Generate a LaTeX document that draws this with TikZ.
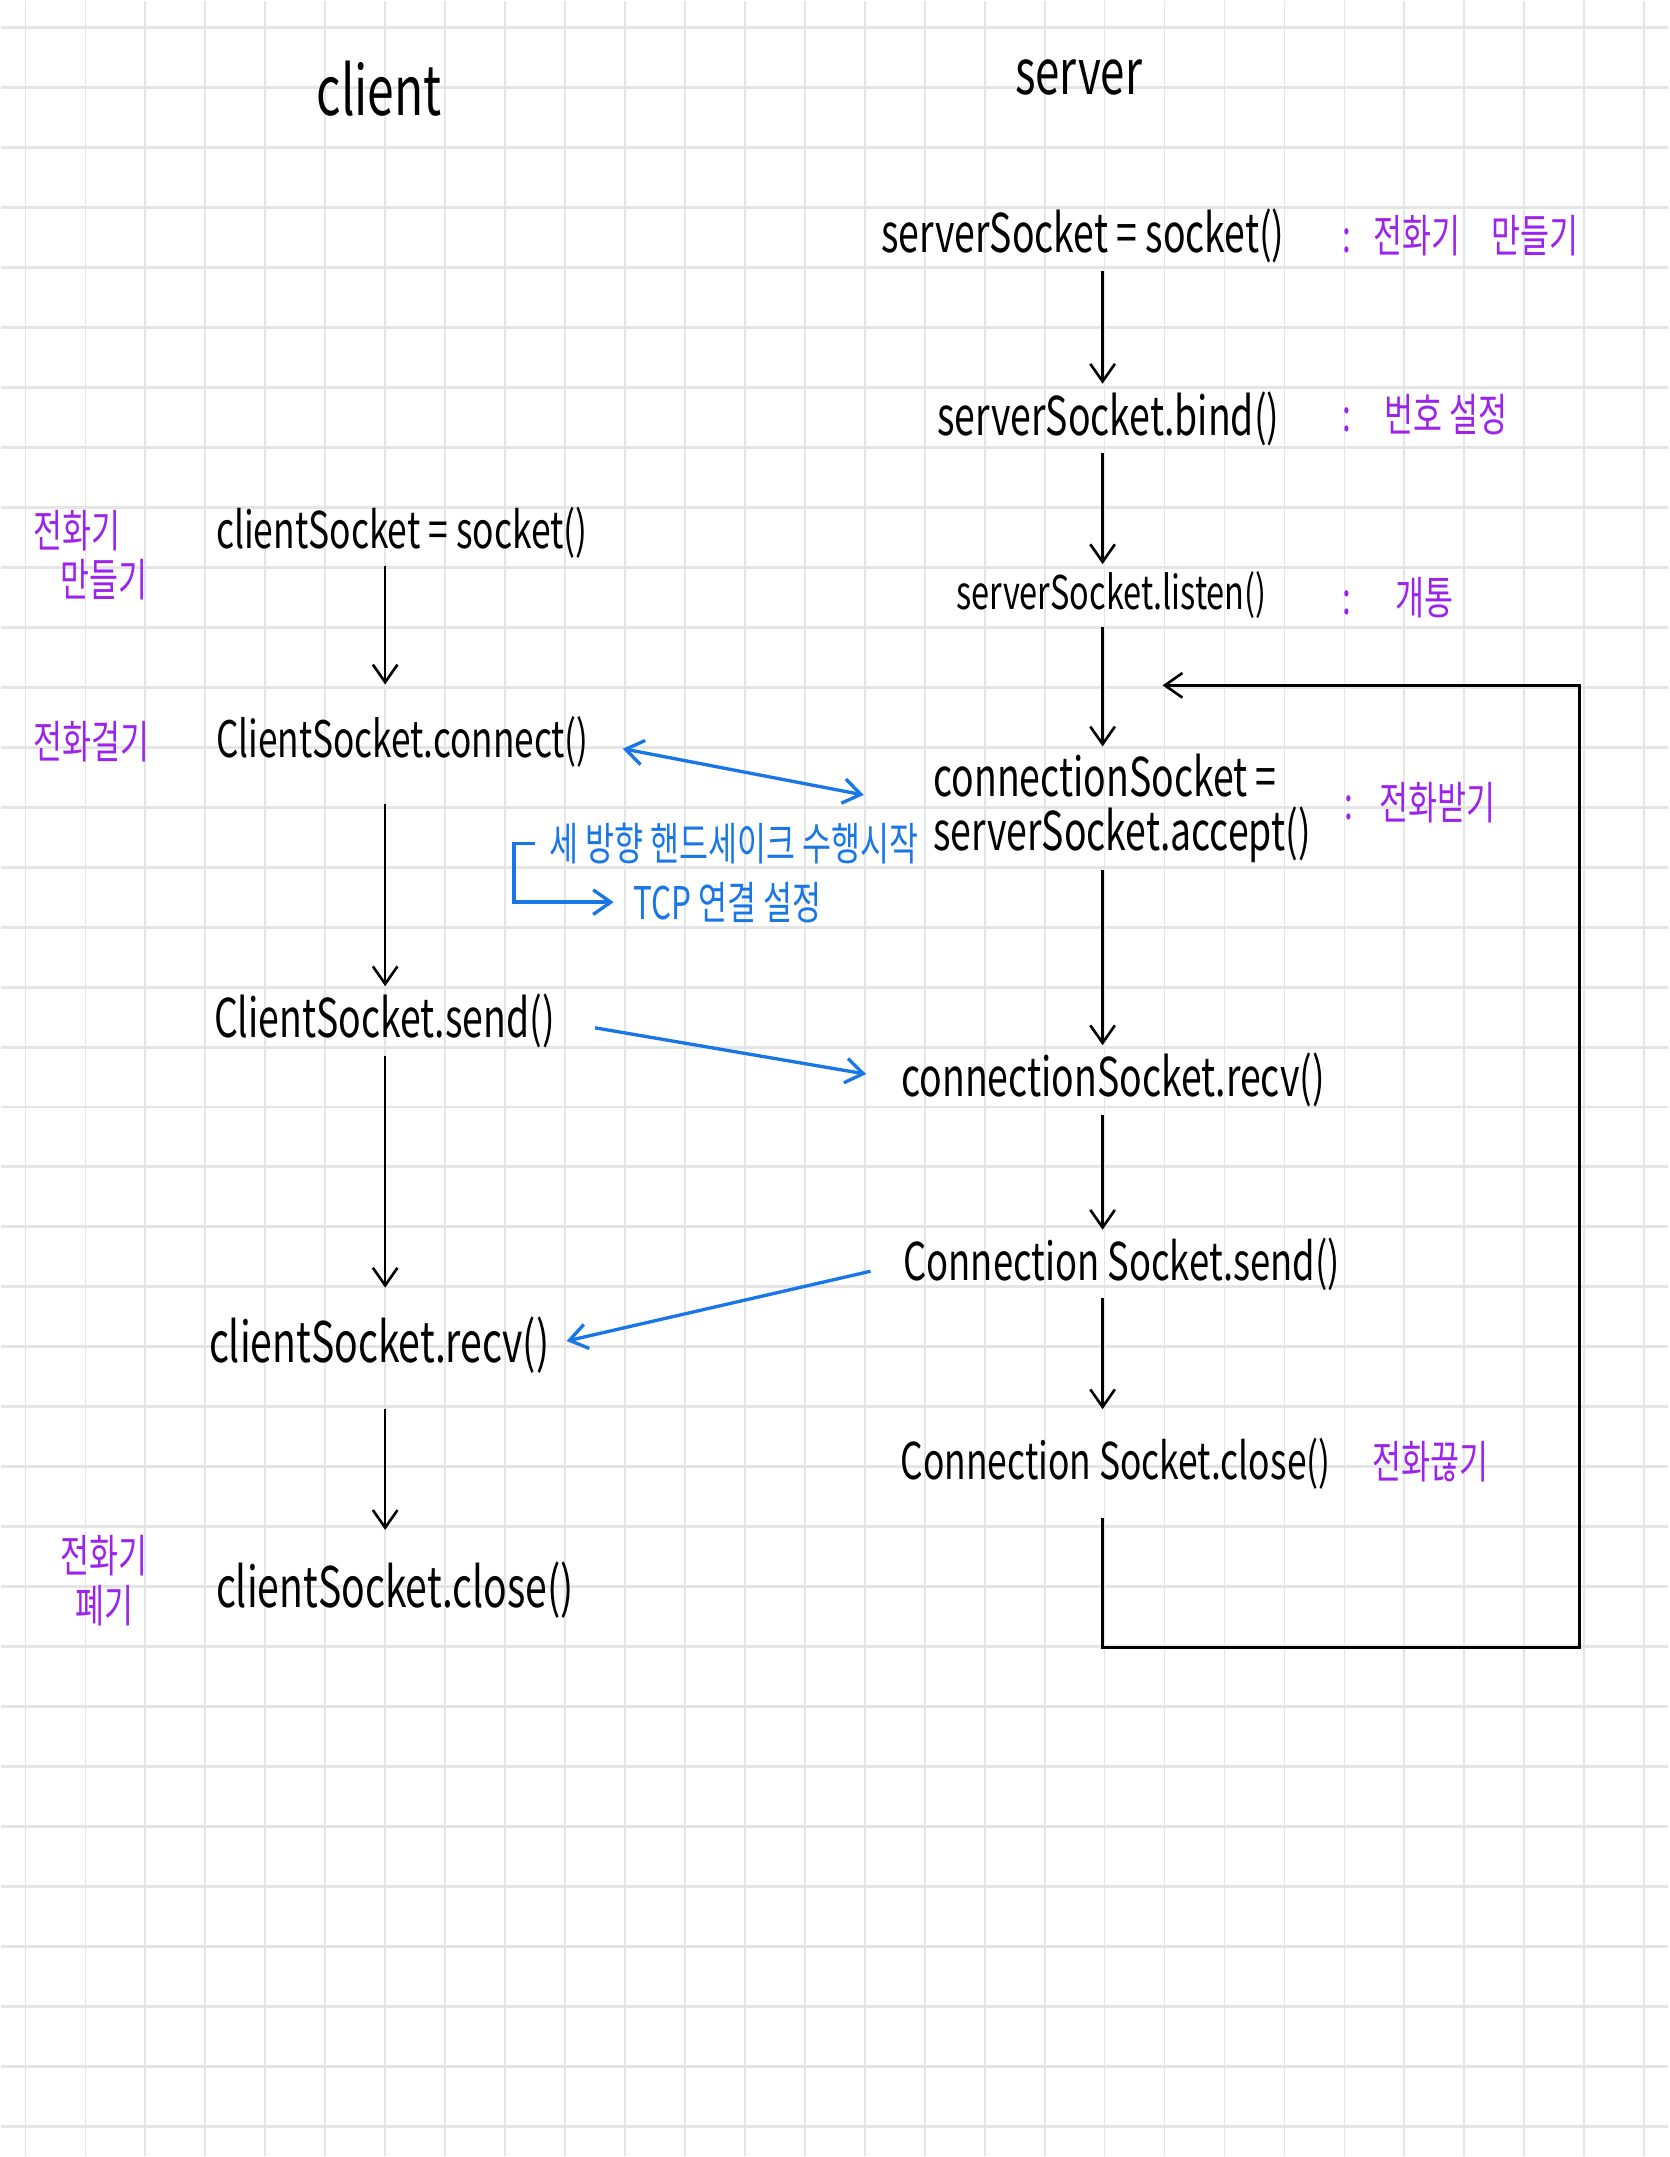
\documentclass[tikz,border=0pt]{standalone}
\usepackage{fontspec}
\setmainfont{Noto Sans CJK KR}
\newfontfamily\hand[FakeStretch=0.7]{Noto Sans CJK KR}
\usetikzlibrary{arrows.meta}
\definecolor{notepurple}{RGB}{155,35,235}
\definecolor{noteblue}{RGB}{25,118,230}
\definecolor{gridgray}{RGB}{229,229,229}

\begin{document}
\begin{tikzpicture}[x=0.01cm, y=-0.01cm,
      every node/.style = {inner sep=2pt, font=\hand},
      code/.style = {anchor=west, inner xsep=0pt, font=\hand\fontsize{#1}{#1}\selectfont},
      code/.default = 15.2,
      head/.style = {font=\hand\fontsize{#1}{20}\selectfont},
      note/.style = {text=notepurple, font=\hand\fontsize{12.8}{14}\selectfont},
      hint/.style = {text=noteblue, anchor=west, font=\hand\fontsize{12.8}{14}\selectfont},
      flow/.style = {-{Straight Barb[length=5pt,width=7pt]}, line width=0.75pt},
      msg/.style = {flow, draw=noteblue, line width=0.95pt}]
    % squared paper
    \fill[white] (0,0) rectangle (1668,2157);
    \foreach \gx in {0,...,27}
      \draw[gridgray, line width=0.5pt] (24+60*\gx,0) -- (24+60*\gx,2157);
    \foreach \gy in {0,...,35}
      \draw[gridgray, line width=0.85pt] (0,27+60*\gy) -- (1668,27+60*\gy);
    \useasboundingbox (0,0) rectangle (1668,2157);

    \node[head=19.5] (client) at (378,88) {client};
    \node[head=17.8] (server) at (1078,77) {server};

    % server side
    \coordinate (sx) at (1102,0);
    \node[code] (ssock) at (880,235) {serverSocket = socket()};
    \node[code] (bind) at (936,418) {serverSocket.bind()};
    \node[code=13.2] (listen) at (955,595) {serverSocket.listen()};
    \node[code, align=left] (accept) at (932,808) {connectionSocket =\\serverSocket.accept()};
    \node[code] (srecv) at (900,1080) {connectionSocket.recv()};
    \node[code=14.8] (ssend) at (902,1264) {Connection Socket.send()};
    \node[code=14.4] (sclose) at (899,1464) {Connection Socket.close()};

    % client side
    \coordinate (cx) at (384,0);
    \node[code=14.4] (csock) at (214,532) {clientSocket = socket()};
    \node[code=14.3] (cconn) at (214,742) {ClientSocket.connect()};
    \node[code] (csend) at (212,1021) {ClientSocket.send()};
    \node[code=15.9] (crecv) at (207,1345) {clientSocket.recv()};
    \node[code=15.9] (cclose) at (214,1591) {clientSocket.close()};

    % notes
    \node[note, anchor=west] (n1) at (1334,235) {:\enspace 전화기\hspace{0.7em}만들기};
    \node[note, anchor=west] (n2) at (1334,414) {:\hspace{0.75em}번호 설정};
    \node[note, anchor=west] (n3) at (1334,597) {:\quad 개통};
    \node[note, anchor=west] (n4) at (1336,802) {:\hspace{0.6em}전화받기};
    \node[note, anchor=west] (n5) at (1364,1462) {전화끊기};
    \node[note, anchor=west, align=left] (n6) at (24,555) {전화기\\\hspace*{0.6em}만들기};
    \node[note, anchor=west] (n7) at (24,741) {전화걸기};
    \node[note, align=center] (n8) at (103,1581) {전화기\\폐기};
    \node[hint] (hs1) at (541,843) {세 방향 핸드세이크 수행시작};
    \node[hint] (hs2) at (625,902) {TCP 연결 설정};

    \draw[flow] (ssock.south -| sx) -- (bind.north -| sx);
    \draw[flow] (bind.south -| sx) -- (listen.north -| sx);
    \draw[flow] (listen.south -| sx) -- (accept.north -| sx);
    \draw[flow] (accept.south -| sx) -- (srecv.north -| sx);
    \draw[flow] (srecv.south -| sx) -- (ssend.north -| sx);
    \draw[flow, shorten >=6pt] (ssend.south -| sx) -- (sclose.north -| sx);

    % back to accept
    \coordinate (loopbot) at (1579,1648);
    \coordinate (loopin) at (1162,685);
    \draw[flow, shorten <=6pt] (sclose.south -| sx) |- (loopbot) |- (loopin);

    \draw[flow, shorten >=7pt] (csock.south -| cx) -- (cconn.north -| cx);
    \draw[flow, shorten <=8pt] (cconn.south -| cx) -- (csend.north -| cx);
    \draw[flow, shorten >=6pt] (csend.south -| cx) -- (crecv.north -| cx);
    \draw[flow, shorten <=8pt, shorten >=7pt] (crecv.south -| cx) -- (cclose.north -| cx);

    \draw[msg, {Straight Barb[length=5pt,width=7pt]}-{Straight Barb[length=5pt,width=7pt]},
          shorten <=9.7pt, shorten >=20pt] (cconn.east) -- (accept.west);
    \draw[msg, shorten <=11.4pt, shorten >=10pt] (csend.east) -- (srecv.west);
    \draw[msg, shorten <=9.4pt, shorten >=4.8pt] (ssend.west) -- (crecv.east);
    \draw[msg, shorten >=3.5pt] ([xshift=-2pt]hs1.west) -- ++(-21,0) |- (hs2.west);
\end{tikzpicture}
\end{document}
